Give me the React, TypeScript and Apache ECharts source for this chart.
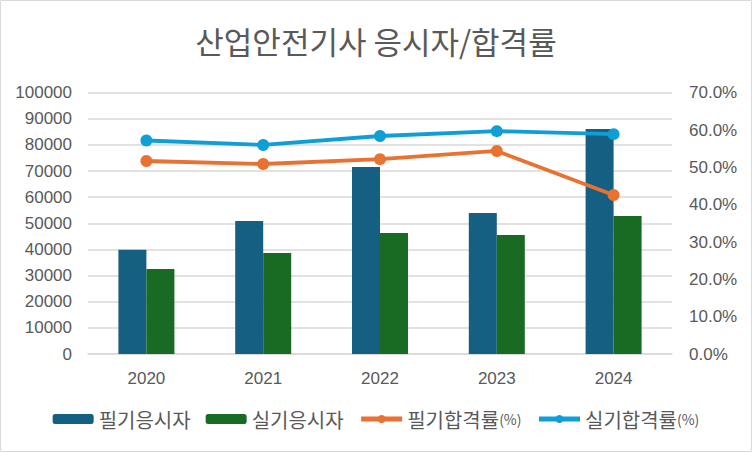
import React, { useEffect, useRef } from "react";
import * as echarts from "echarts";

const years = ["2020", "2021", "2022", "2023", "2024"];
const writtenApplicants = [39900, 50900, 71600, 54000, 86100];
const practicalApplicants = [32500, 38700, 46300, 45500, 52800];
const writtenPassRate = [0.517, 0.509, 0.522, 0.544, 0.426];
const practicalPassRate = [0.572, 0.56, 0.584, 0.597, 0.589];
const leftTicks = { min: 0, max: 100000, interval: 10000 };
const rightTicks = { min: 0, max: 0.7, interval: 0.1 };

const FONT = "'Liberation Sans', Arial, 'Noto Sans CJK KR', sans-serif";
const KFONT = "'Noto Sans CJK KR', 'Liberation Sans', sans-serif";
const GRAY = "#595959";
const GRID = "#D9D9D9";

export default function App() {
  const ref = useRef<HTMLDivElement>(null);
  useEffect(() => {
    if (!ref.current) return;
    const chart = echarts.init(ref.current, null, { renderer: "svg" });
    chart.setOption({
      animation: false,
      backgroundColor: "#ffffff",
      title: {
        text: "산업안전기사 응시자/합격률",
        left: "center",
        top: 20,
        textStyle: { fontFamily: KFONT, fontSize: 31, fontWeight: "normal", color: GRAY },
      },
      graphic: [
        {
          type: "rect",
          shape: { x: 0.5, y: 0.5, width: 751, height: 451 },
          style: { fill: "none", stroke: GRID, lineWidth: 1 },
          silent: true,
        },
      ],
      legend: {
        bottom: 18,
        left: "center",
        itemWidth: 41,
        itemHeight: 10,
        itemGap: 15,
        textStyle: {
          fontFamily: KFONT,
          fontSize: 20,
          color: GRAY,
          rich: { s: { fontFamily: KFONT, fontSize: 14, color: GRAY } },
        },
        formatter: (name: string) =>
          name.endsWith("(%)") ? `${name.slice(0, -3)}{s|(%)}` : name,
        data: [
          { name: "필기응시자" },
          { name: "실기응시자" },
          { name: "필기합격률(%)", lineStyle: { width: 5 } },
          { name: "실기합격률(%)", lineStyle: { width: 5 } },
        ],
      },
      grid: { left: 88, right: 80, top: 92.7, bottom: 98 },
      xAxis: {
        type: "category",
        data: years,
        axisLine: { lineStyle: { color: GRID, width: 1.5 } },
        axisTick: { show: false },
        axisLabel: { fontFamily: FONT, fontSize: 17, color: GRAY, margin: 16 },
      },
      yAxis: [
        {
          type: "value",
          ...leftTicks,
          axisLine: { show: false },
          axisTick: { show: false },
          splitLine: { lineStyle: { color: GRID, width: 1.5 } },
          axisLabel: {
            fontFamily: FONT,
            fontSize: 17,
            color: GRAY,
            margin: 16,
            formatter: (v: number) => String(v),
          },
        },
        {
          type: "value",
          ...rightTicks,
          position: "right",
          axisLine: { show: false },
          axisTick: { show: false },
          splitLine: { show: false },
          axisLabel: {
            fontFamily: FONT,
            fontSize: 17,
            color: GRAY,
            margin: 17,
            formatter: (v: number) => `${(v * 100).toFixed(1)}%`,
          },
        },
      ],
      series: [
        {
          name: "필기응시자",
          type: "bar",
          data: writtenApplicants,
          barWidth: 28,
          barGap: "0%",
          itemStyle: { color: "#156082" },
        },
        {
          name: "실기응시자",
          type: "bar",
          data: practicalApplicants,
          barWidth: 28,
          itemStyle: { color: "#196B24" },
        },
        {
          name: "필기합격률(%)",
          type: "line",
          yAxisIndex: 1,
          data: writtenPassRate,
          symbol: "circle",
          symbolSize: 12,
          lineStyle: { color: "#E97132", width: 3.8 },
          itemStyle: { color: "#E97132" },
        },
        {
          name: "실기합격률(%)",
          type: "line",
          yAxisIndex: 1,
          data: practicalPassRate,
          symbol: "circle",
          symbolSize: 12,
          lineStyle: { color: "#0F9ED5", width: 3.8 },
          itemStyle: { color: "#0F9ED5" },
        },
      ],
    });
    return () => chart.dispose();
  }, []);
  return (
    <div
      ref={ref}
      style={{ position: "absolute", left: 0, top: 0, width: 752, height: 452 }}
    />
  );
}
